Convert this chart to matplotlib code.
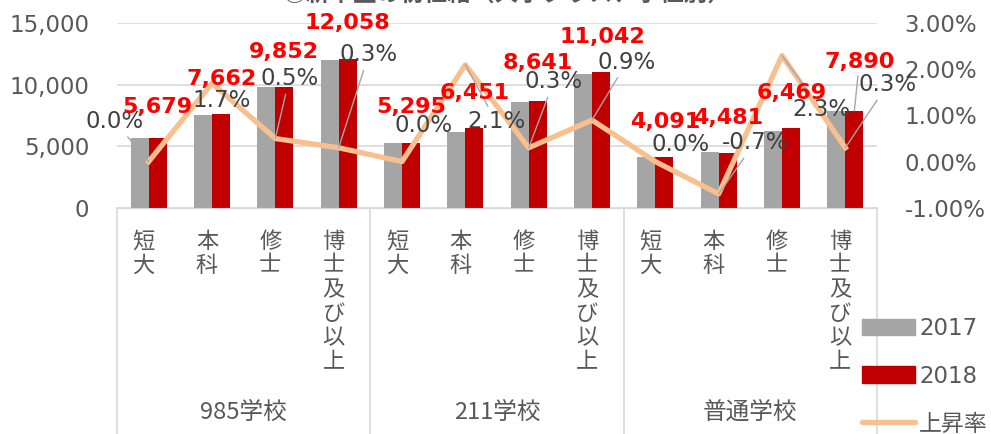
import matplotlib
matplotlib.use("Agg")
from matplotlib import pyplot as plt
from matplotlib.patches import Patch
from matplotlib.lines import Line2D
import numpy as np

plt.rcParams["font.family"] = ["DejaVu Sans", "Noto Sans CJK JP"]

# data
groups = ["985学校", "211学校", "普通学校"]
degrees = ["短大", "本科", "修士", "博士及び以上"]
salary_2017 = [5670, 7530, 9800, 12020, 5290, 6150, 8600, 10900, 4090, 4510, 6200, 7850]
salary_2018 = [5679, 7662, 9852, 12058, 5295, 6451, 8641, 11042, 4091, 4481, 6469, 7890]
rise_rate = [0.0, 1.7, 0.5, 0.3, 0.0, 2.1, 0.3, 0.9, 0.0, -0.7, 2.3, 0.3]

# label offsets (pixels) hand-placed like the excel original
red_offsets = [(0, 31), (1, 35), (0, 35), (0, 36), (0, 36), (0, 35),
               (0, 38), (1, 35), (1, 35), (0, 35), (1, 35), (5, 49)]
pct_offsets = [(-34, 40), (10, -17), (14, 60), (30, 93), (22, 36), (31, -57),
               (25, 66), (35, 58), (25, 17), (36, 51), (39, -54), (42, 63)]
pct_leader = [1, 0, 1, 1, 0, 1, 1, 1, 0, 1, 1, 1]

GRAY = "#a5a5a5"
RED = "#c00000"
LINE = "#f8c08f"
TXT = "#595959"
GRID = "#d9d9d9"

fig = plt.figure(figsize=(9.91, 4.34), dpi=100)
ax = fig.add_axes([117 / 991, 1 - 207.7 / 434, 760 / 991, 184.4 / 434])
ax2 = ax.twinx()

n = len(salary_2018)
x = np.arange(n) + 0.5
w = 0.285
ax.bar(x - w / 2, salary_2017, w, color=GRAY, zorder=2)
ax.bar(x + w / 2, salary_2018, w, color=RED, zorder=2)

ax.set_xlim(0, n)
ax.set_ylim(0, 15000)
ax.set_yticks([0, 5000, 10000, 15000])
ax.set_yticklabels(["{:,}".format(v) for v in [0, 5000, 10000, 15000]])
ax.yaxis.grid(True, color=GRID, lw=1.2, zorder=0)
ax.set_axisbelow(True)
ax.set_xticks([])
for s in ["left", "right", "top"]:
    ax.spines[s].set_visible(False)
    ax2.spines[s].set_visible(False)
ax.spines["bottom"].set_color(GRID)
ax2.spines["bottom"].set_visible(False)
ax.tick_params(axis="y", length=0, pad=20, labelsize=16.5, labelcolor=TXT)

ax2.plot(x, rise_rate, color=LINE, lw=3.8, solid_joinstyle="round", zorder=3)
ax2.set_ylim(-1, 3)
ax2.set_yticks([-1, 0, 1, 2, 3])
ax2.set_yticklabels(["{:.2f}%".format(v) for v in [-1, 0, 1, 2, 3]])
ax2.tick_params(axis="y", length=0, pad=20, labelsize=16.5, labelcolor=TXT)

# rise-rate labels
for i in range(n):
    ap = None
    if pct_leader[i]:
        ap = dict(arrowstyle="-", color="#a6a6a6", lw=1, shrinkA=1, shrinkB=0)
    ax2.annotate("{:.1f}%".format(rise_rate[i]), (x[i], rise_rate[i]),
                 xytext=pct_offsets[i], textcoords="offset pixels",
                 ha="center", va="center", fontsize=16.5, color="#404040",
                 arrowprops=ap, zorder=5)

# 2018 value labels
for i in range(n):
    ap = None
    if i == n - 1:
        ap = dict(arrowstyle="-", color="#a6a6a6", lw=1, shrinkA=1, shrinkB=0)
    ax2.annotate("{:,}".format(salary_2018[i]), (x[i] + w / 2, salary_2018[i]),
                 xycoords=ax.transData, xytext=red_offsets[i],
                 textcoords="offset pixels", ha="center", va="center",
                 fontsize=16, fontweight="bold", color="#ff0000",
                 arrowprops=ap, zorder=6)

# two-level category axis
for i in range(n):
    ax.annotate("\n".join(degrees[i % 4]), (x[i], 0), xycoords=("data", "axes fraction"),
                xytext=(-5, -22), textcoords="offset pixels", ha="center", va="top",
                fontsize=16, color=TXT, family=["Noto Sans CJK JP"], linespacing=1.06,
                annotation_clip=False)
for g in range(len(groups)):
    ax.annotate(groups[g], (g * 4 + 2, 0), xycoords=("data", "axes fraction"),
                xytext=(0, -205), textcoords="offset pixels", ha="center", va="center",
                fontsize=17, color=TXT, family=["Noto Sans CJK JP"],
                annotation_clip=False)
for xv in range(0, n + 1, 4):
    ax.axvline(xv, ymin=-1.3, ymax=0, color=GRID, lw=1.2, clip_on=False)

fig.text(507 / 991, 1 + 6 / 434, "③新卒生の初任給（大学クラス、学位別）",
         ha="center", va="center", fontsize=17, fontweight="bold", color=TXT,
         family=["Noto Sans CJK JP"])

handles = [Patch(color=GRAY), Patch(color=RED),
           Line2D([], [], color=LINE, lw=3.8, solid_capstyle="round")]
fig.legend(handles, ["2017", "2018", "上昇率"], loc="upper left",
           bbox_to_anchor=(862 / 991, 1 - 317 / 434), frameon=False,
           fontsize=16.5, labelcolor=TXT, handlelength=2.3, handleheight=0.75,
           handletextpad=0.2, labelspacing=1.08, borderpad=0, borderaxespad=0)

fig.savefig("out.png", dpi=100)
